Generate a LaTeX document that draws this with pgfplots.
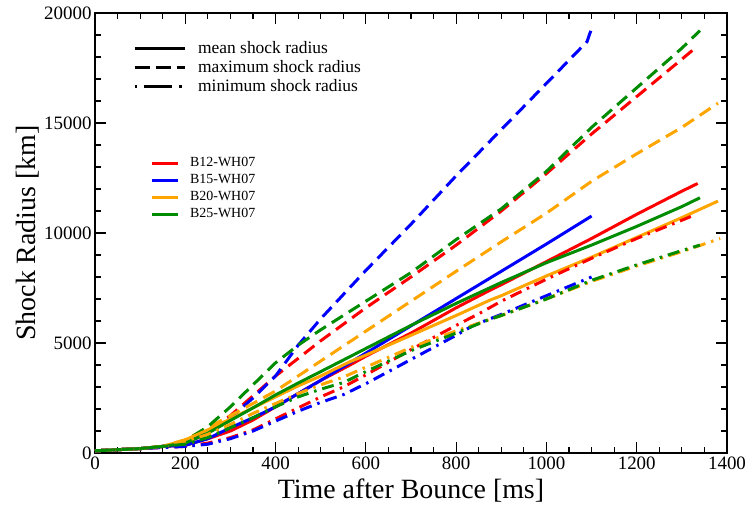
\documentclass[border=0pt]{standalone}
\usepackage{pgfplots}
\pgfplotsset{compat=1.18}
\usepackage{fontspec}
\setmainfont{Liberation Serif}
\definecolor{cred}{RGB}{255,0,0}
\definecolor{cblue}{RGB}{0,0,255}
\definecolor{corange}{RGB}{255,165,0}
\definecolor{cgreen}{RGB}{0,140,0}
\tikzset{
  dsh/.style={dash pattern=on 13bp off 7bp},
  dshdot/.style={dash pattern=on 12bp off 6bp on 2.5bp off 6bp},
}
\begin{document}
\begin{tikzpicture}
\path[use as bounding box] (-95bp,-60bp) rectangle (655bp,453bp);
\begin{axis}[
  at={(0,0)}, anchor=south west,
  scale only axis, width=632bp, height=440bp,
  xmin=0, xmax=1400, ymin=0, ymax=20000,
  xtick={0,200,...,1400}, minor x tick num=3,
  ytick={0,5000,...,20000}, minor y tick num=4,
  tick align=inside,
  major tick length=11bp, minor tick length=6bp,
  axis line style={line width=1.6bp},
  every tick/.style={line width=1.2bp, black},
  scaled ticks=false,
  /pgf/number format/1000 sep={},
  /pgf/number format/assume math mode=true,
  tick label style={font=\fontsize{19}{19}\selectfont},
  label style={font=\fontsize{28}{28}\selectfont},
  xlabel={Time after Bounce [ms]},
  ylabel={Shock Radius [km]},
  xlabel style={at={(axis description cs:0.5,-0.0864)}, anchor=center},
  ylabel style={at={(axis description cs:-0.106,0.5)}, anchor=center},
  legend style={at={(0.087,0.677)}, anchor=north west, draw=none, fill=none,
    inner sep=0pt, font=\fontsize{14}{14}\selectfont, row sep=0pt,
    nodes={inner sep=1bp, text height=10.5bp, text depth=4.3bp},
    /tikz/every odd column/.append style={column sep=10bp}},
  legend image code/.code={\draw[#1, line width=3bp] (0bp,0bp) -- (26bp,0bp);},
  legend cell align=left,
  every axis plot/.append style={line width=3bp},
]
% ---------- maximum (dashed) ----------
\addplot[cred, dsh, forget plot] coordinates {(0,100)(100,200)(150,300)(200,450)(250,950)(300,1700)(350,2600)(400,3500)(450,4300)(500,5100)(600,6600)(700,8000)(800,9450)(900,11000)(1000,12700)(1100,14500)(1200,16200)(1300,17900)(1335,18500)};
\addplot[cblue, dsh, forget plot] coordinates {(0,100)(100,200)(150,300)(200,450)(250,900)(300,1600)(350,2500)(400,3500)(450,4900)(500,6100)(600,8300)(700,10400)(800,12600)(900,14700)(1000,16800)(1090,18700)(1100,19300)};
\addplot[corange, dsh, forget plot] coordinates {(0,100)(100,200)(150,300)(200,600)(250,1150)(300,1700)(350,2250)(400,2820)(500,4180)(600,5540)(700,6900)(800,8260)(900,9600)(1000,10900)(1100,12350)(1200,13600)(1300,14800)(1380,15900)};
\addplot[cgreen, dsh, forget plot] coordinates {(0,100)(100,200)(150,300)(200,550)(250,1200)(300,2100)(350,3100)(400,4100)(450,4900)(500,5600)(600,6900)(700,8200)(800,9700)(900,11100)(1000,12800)(1100,14800)(1200,16600)(1300,18400)(1340,19200)};
% ---------- mean (solid) ----------
\addplot[cred, forget plot] coordinates {(0,100)(100,200)(150,300)(200,350)(250,650)(300,1000)(350,1500)(400,2100)(450,2700)(500,3300)(565,4000)(600,4400)(700,5450)(800,6600)(875,7400)(900,7650)(1000,8700)(1100,9750)(1200,10850)(1300,11900)(1335,12250)};
\addplot[cblue, forget plot] coordinates {(0,100)(100,200)(150,300)(200,350)(250,650)(300,1150)(350,1600)(400,2100)(450,2700)(500,3300)(600,4540)(700,5780)(800,7020)(900,8260)(1000,9500)(1100,10770)};
\addplot[corange, forget plot] coordinates {(0,100)(100,200)(150,300)(200,600)(250,1050)(300,1550)(350,2050)(400,2550)(450,3050)(500,3500)(565,4150)(600,4450)(700,5350)(800,6250)(875,6950)(900,7150)(1000,8050)(1100,8900)(1200,9800)(1300,10700)(1380,11450)};
\addplot[cgreen, forget plot] coordinates {(0,100)(100,200)(150,300)(200,450)(250,900)(300,1480)(350,2050)(400,2640)(450,3180)(500,3700)(600,4750)(700,5800)(800,6800)(900,7750)(1000,8650)(1100,9450)(1200,10300)(1300,11200)(1340,11600)};
% ---------- minimum (dash-dot) ----------
\addplot[cred, dshdot, forget plot] coordinates {(0,100)(100,200)(150,250)(200,300)(250,450)(300,700)(350,1050)(400,1550)(450,2050)(500,2550)(550,3000)(600,3550)(700,4700)(800,5800)(853,6360)(900,6900)(1000,7900)(1100,8850)(1200,9750)(1300,10580)(1320,10750)};
\addplot[cblue, dshdot, forget plot] coordinates {(0,100)(100,200)(150,250)(200,300)(250,400)(300,650)(350,1000)(400,1450)(450,1900)(500,2300)(550,2650)(600,3150)(700,4250)(800,5350)(838,5800)(900,6300)(1000,7150)(1100,8000)};
\addplot[corange, dshdot, forget plot] coordinates {(0,100)(100,200)(150,300)(200,500)(250,850)(300,1300)(350,1800)(400,2250)(450,2700)(500,3100)(550,3450)(600,3900)(700,4800)(800,5550)(900,6250)(1000,7000)(1100,7800)(1200,8500)(1300,9150)(1385,9750)};
\addplot[cgreen, dshdot, forget plot] coordinates {(0,100)(100,200)(150,300)(200,400)(250,700)(300,1150)(350,1600)(400,2100)(450,2550)(500,2900)(550,3200)(600,3700)(700,4650)(800,5450)(870,6045)(900,6250)(1000,7000)(1100,7850)(1200,8550)(1300,9200)(1340,9450)};
\addlegendimage{cred}
\addlegendentry{B12-WH07}
\addlegendimage{cblue}
\addlegendentry{B15-WH07}
\addlegendimage{corange}
\addlegendentry{B20-WH07}
\addlegendimage{cgreen}
\addlegendentry{B25-WH07}
\end{axis}
\begin{axis}[
  at={(0,0)}, anchor=south west,
  scale only axis, width=632bp, height=440bp,
  hide axis, xmin=0, xmax=1, ymin=0, ymax=1,
  legend style={at={(0.06,0.9405)}, anchor=north west, draw=none, fill=none,
    inner sep=0pt, font=\fontsize{17.5}{17.5}\selectfont, row sep=0pt,
    nodes={inner sep=1bp, text height=13bp, text depth=4bp},
    /tikz/every odd column/.append style={column sep=11bp}},
  legend image code/.code={\draw[#1, line width=3bp] (0bp,0bp) -- (50bp,0bp);},
  legend cell align=left,
]
\addlegendimage{black}
\addlegendentry{mean shock radius}
\addlegendimage{black, dash pattern=on 15bp off 6bp}
\addlegendentry{maximum shock radius}
\addlegendimage{black, dash pattern=on 2.5bp off 7bp on 28bp off 7bp on 3bp off 10bp}
\addlegendentry{minimum shock radius}
\end{axis}
\end{tikzpicture}
\end{document}
